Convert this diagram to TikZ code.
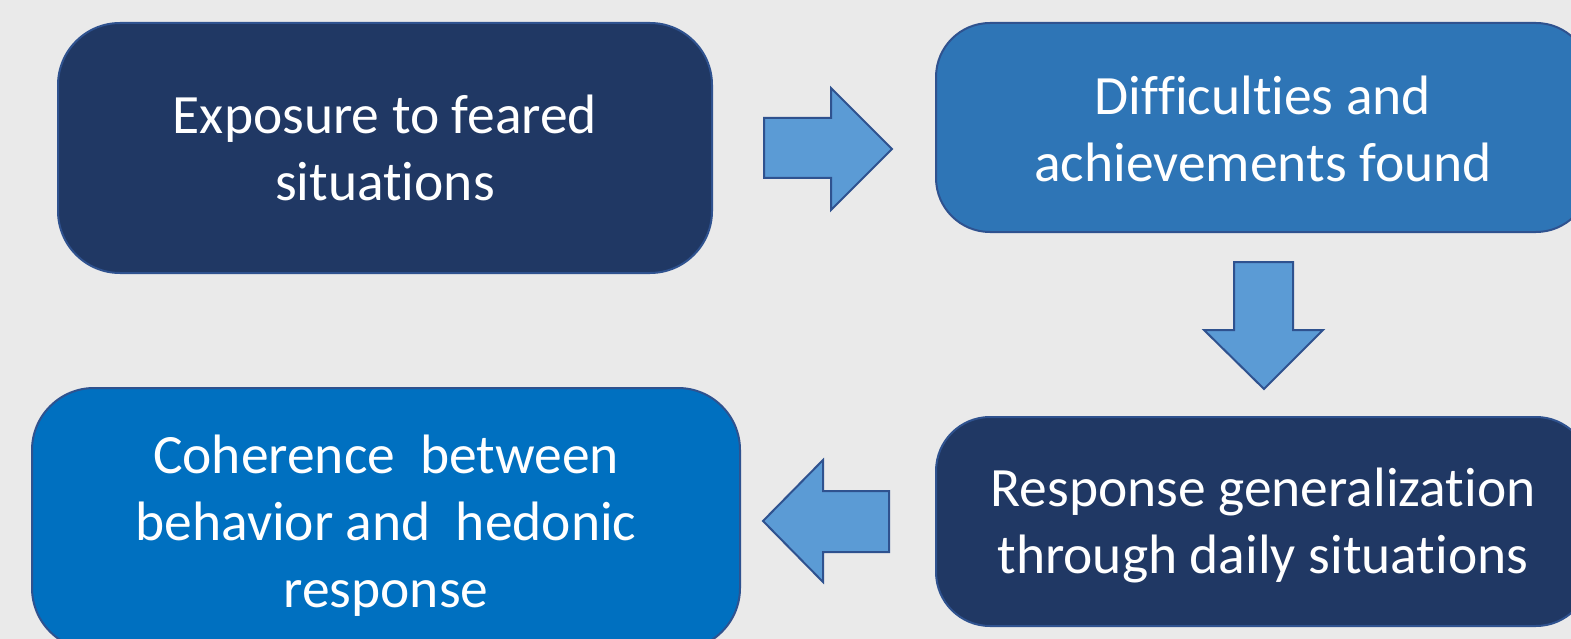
\documentclass[tikz,border=0pt]{standalone}
\usepackage{fontspec}
\setmainfont[Ligatures={NoCommon}]{Carlito}
\definecolor{bg}{RGB}{234,234,234}
\definecolor{navy}{HTML}{203864}
\definecolor{midblue}{HTML}{2E75B6}
\definecolor{brightblue}{HTML}{0070C0}
\definecolor{arrowfill}{HTML}{5B9BD5}
\definecolor{edgeblue}{HTML}{2F528F}
\begin{document}
\begin{tikzpicture}[x=1pt,y=-1pt,
  box/.style={draw=edgeblue, line width=2pt, inner sep=0pt},
  lbl/.style={text=white, align=center, font=\fontsize{55.5}{67}\selectfont, inner sep=0pt},
  blockarrow/.style={draw=edgeblue, line width=2pt, fill=arrowfill, line join=miter}]
\fill[bg] (0,0) rectangle (1571,639);
\useasboundingbox (0,0) rectangle (1571,639);
\clip (0,0) rectangle (1571,639);
\node[box, fill=navy, rounded corners=62pt, minimum width=654pt, minimum height=250pt] (b1) at (385,148) {};
\node[box, fill=midblue, rounded corners=54pt, minimum width=654pt, minimum height=209pt] (b2) at (1263,127.5) {};
\node[box, fill=navy, rounded corners=54pt, minimum width=654pt, minimum height=209pt] (b3) at (1263,521.5) {};
\node[box, fill=brightblue, rounded corners=62pt, minimum width=708pt, minimum height=262pt] (b4) at (386,519) {};
\node[lbl] (t1) at (b1.center) {Exposure to feared\\situations};
\node[lbl] (t2) at ([yshift=-1pt]b2.center) {Difficulties and\\achievements found};
\node[lbl] (t3) at ([yshift=-4pt]b3.center) {Response generalization\\through daily situations};
\node[lbl] (t4) at ([yshift=-7pt]b4.center) {Coherence\ \ between\\behavior and\ \ hedonic\\response};
\draw[blockarrow] (764,118) -- (831,118) -- (831,88) -- (892,149) -- (831,210) -- (831,178) -- (764,178) -- cycle;
\draw[blockarrow] (1234,262) -- (1293,262) -- (1293,330) -- (1323,330) -- (1264,389) -- (1204,330) -- (1234,330) -- cycle;
\draw[blockarrow] (889,491) -- (823,491) -- (823,460) -- (763,521) -- (823,582) -- (823,552) -- (889,552) -- cycle;
\end{tikzpicture}
\end{document}
